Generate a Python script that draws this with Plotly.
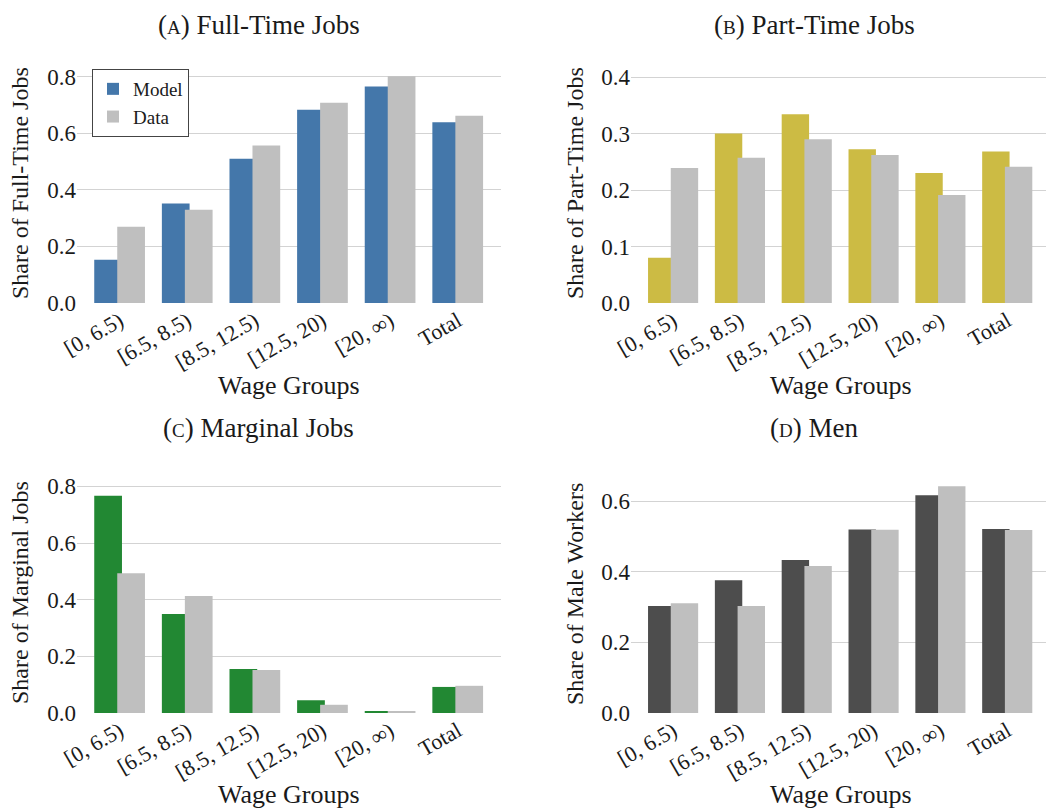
import plotly.graph_objects as go
from plotly.subplots import make_subplots

wage_groups = ["[0, 6.5)", "[6.5, 8.5)", "[8.5, 12.5)", "[12.5, 20)", "[20, ∞)", "Total"]

full_model = [0.153, 0.352, 0.510, 0.683, 0.765, 0.639]
full_data = [0.270, 0.330, 0.557, 0.708, 0.802, 0.662]

part_model = [0.080, 0.300, 0.334, 0.272, 0.230, 0.268]
part_data = [0.239, 0.257, 0.290, 0.262, 0.191, 0.241]

marg_model = [0.767, 0.349, 0.155, 0.045, 0.005, 0.092]
marg_data = [0.493, 0.413, 0.152, 0.029, 0.007, 0.096]

men_model = [0.303, 0.376, 0.433, 0.520, 0.617, 0.521]
men_data = [0.311, 0.303, 0.416, 0.519, 0.642, 0.518]

FONT = "Liberation Serif"
DATA_GREY = "#BFBFBF"

panels = [
    # (row, col, model, data, colour, title letter, title, y label, y range, ticks)
    (1, 1, full_model, full_data, "#4477AA", "A", "Full-Time Jobs", "Share of Full-Time Jobs", [0, 0.84], [0, 0.2, 0.4, 0.6, 0.8]),
    (1, 2, part_model, part_data, "#CCBB44", "B", "Part-Time Jobs", "Share of Part-Time Jobs", [0, 0.42], [0, 0.1, 0.2, 0.3, 0.4]),
    (2, 1, marg_model, marg_data, "#228833", "C", "Marginal Jobs", "Share of Marginal Jobs", [0, 0.84], [0, 0.2, 0.4, 0.6, 0.8]),
    (2, 2, men_model, men_data, "#4D4D4D", "D", "Men", "Share of Male Workers", [0, 0.674], [0, 0.2, 0.4, 0.6]),
]

fig = make_subplots(rows=2, cols=2)

W, H = 1054, 812
PAD = 8  # page body margin, positions below are screen pixels
# plot boxes in pixels: (left, right, top, bottom)
boxes = {
    (1, 1): (77, 501, 65.4, 303),
    (1, 2): (631, 1050, 65.7, 303),
    (2, 1): (77, 501, 475, 713),
    (2, 2): (631, 1050, 475, 713),
}
# text centres in pixels: title (x, y), x label y, y label (x, y)
text_pos = {
    (1, 1): ((259, 18), 385, (20, 183)),
    (1, 2): ((814, 18), 385, (575, 183)),
    (2, 1): ((258, 428), 794, (20, 593)),
    (2, 2): ((814, 428), 794, (575, 594)),
}


def px(x):
    return (x - PAD) / W


def py(y):
    return 1 - (y - PAD) / H


annotations = []
for i, (r, c, model, data, colour, letter, title, ylab, yr, ticks) in enumerate(panels):
    first = i == 0
    fig.add_trace(go.Bar(x=wage_groups, y=model, name="Model", marker_color=colour,
                         marker_line_width=0, width=0.41, offset=-0.375,
                         showlegend=first), row=r, col=c)
    fig.add_trace(go.Bar(x=wage_groups, y=data, name="Data", marker_color=DATA_GREY,
                         marker_line_width=0, width=0.41, offset=-0.035,
                         showlegend=first), row=r, col=c)
    left, right, top, bottom = boxes[(r, c)]
    fig.update_xaxes(domain=[px(left), px(right)], range=[-0.63, 5.64], tickangle=-30,
                     showgrid=False, showline=False, ticks="", automargin=False,
                     tickfont=dict(size=22), row=r, col=c)
    fig.update_yaxes(domain=[py(bottom), py(top)], range=yr, tickvals=ticks,
                     tickformat=".1f", showgrid=True, gridcolor="#D3D3D3", gridwidth=1,
                     zeroline=False, showline=False, ticks="", automargin=False,
                     tickfont=dict(size=23), row=r, col=c)
    (tx, ty), xly, (ylx, yly) = text_pos[(r, c)]
    cx = (left + right) / 2
    title_text = f"(<span style='font-size:19px'>{letter}</span>) {title}"
    if r == 1:
        # top row sits against the page edge, so anchor it to the paper top
        annotations.append(dict(text=title_text, x=px(tx), y=1, xref="paper", yref="paper",
                                showarrow=False, font=dict(size=27),
                                xanchor="center", yanchor="top"))
    else:
        annotations.append(dict(text=title_text, x=px(tx), y=py(ty), xref="paper", yref="paper",
                                showarrow=False, font=dict(size=27),
                                xanchor="center", yanchor="middle"))
    annotations.append(dict(text="Wage Groups", x=px(cx), y=py(xly),
                            xref="paper", yref="paper", showarrow=False,
                            font=dict(size=26), xanchor="center", yanchor="middle"))
    annotations.append(dict(text=ylab, x=px(ylx), y=py(yly),
                            xref="paper", yref="paper", showarrow=False, textangle=-90,
                            font=dict(size=24), xanchor="center", yanchor="middle"))

fig.update_layout(
    width=W, height=H,
    margin=dict(l=0, r=0, t=0, b=0),
    barmode="overlay",
    plot_bgcolor="white", paper_bgcolor="white",
    font=dict(family=FONT, size=22, color="#1A1A1A"),
    annotations=annotations,
    legend=dict(x=px(92), y=py(69), xanchor="left", yanchor="top",
                bordercolor="#444444", borderwidth=1, font=dict(size=19),
                tracegroupgap=0, itemwidth=30),
)

fig.write_html("out.html")
